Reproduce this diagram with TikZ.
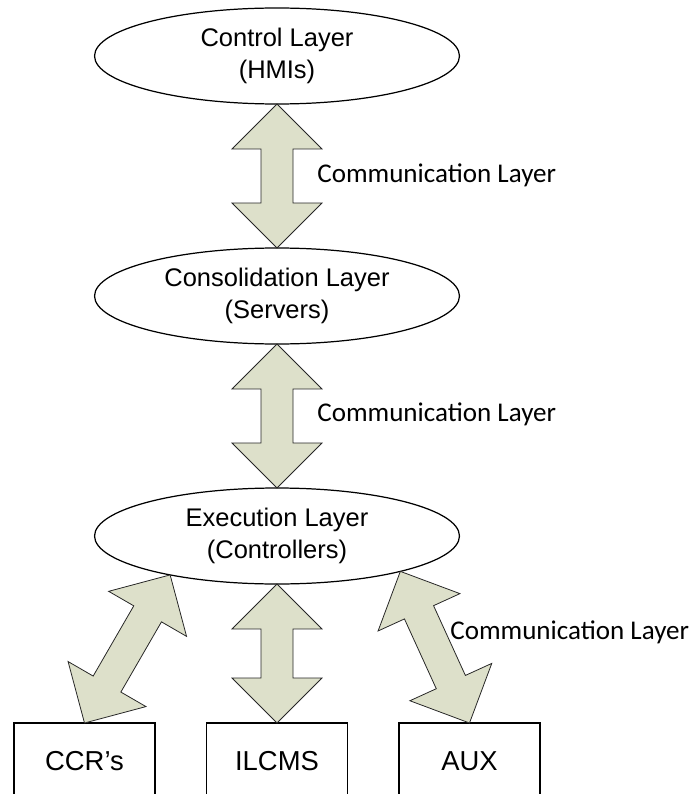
\documentclass[tikz,border=0pt]{standalone}
\usepackage{fontspec}
\setmainfont{Liberation Sans}
\newfontfamily\labelfont{Carlito}
\usetikzlibrary{calc,shapes.geometric}

\definecolor{arrowfill}{RGB}{221,224,202}

\tikzset{
  layer/.style={draw, line width=0.7pt, ellipse, minimum width=7.3cm, minimum height=1.92cm,
    inner sep=0pt, outer sep=0pt, align=center, font=\fontsize{14.5}{18.2}\selectfont},
  unitbox/.style={draw, line width=0.7pt, minimum width=2.82cm, minimum height=1.52cm,
    anchor=north, outer sep=0pt, font=\fontsize{15.6}{18}\selectfont},
  commlabel/.style={anchor=west, inner sep=0pt, font=\labelfont\fontsize{15.4}{18}\selectfont},
  commarrow/.style={fill=arrowfill, draw=black!85, line width=0.45pt}
}

% double block arrow between two points
\newcommand{\dblarrow}[2]{%
  \path (#1) coordinate (ta) (#2) coordinate (tb);
  \path ($(ta)!0.9cm!(tb)$) coordinate (ha) ($(tb)!0.9cm!(ta)$) coordinate (hb);
  \draw[commarrow] (ta)
    -- ($(ha)!0.9cm!90:(tb)$) -- ($(ha)!0.32cm!90:(tb)$)
    -- ($(hb)!0.32cm!-90:(ta)$) -- ($(hb)!0.9cm!-90:(ta)$)
    -- (tb)
    -- ($(hb)!0.9cm!90:(ta)$) -- ($(hb)!0.32cm!90:(ta)$)
    -- ($(ha)!0.32cm!-90:(tb)$) -- ($(ha)!0.9cm!-90:(tb)$)
    -- cycle;
}

\begin{document}
\begin{tikzpicture}[x=0.02cm, y=-0.02cm]
  \clip (0,0) rectangle (691,794);

  % Layers
  \node[layer] (ctrl) at (277,56) {Control Layer\\(HMIs)};
  \node[layer] (cons) at (277,296) {Consolidation Layer\\(Servers)};
  \node[layer] (exe) at (277,536) {Execution Layer\\(Controllers)};

  % Field units
  \node[unitbox] (ccr) at (84.5,723) {CCR’s};
  \node[unitbox] (ilcms) at (277,723) {ILCMS};
  \node[unitbox] (aux) at (469.5,723) {AUX};

  % Communication arrows
  \dblarrow{ctrl.south}{cons.north}
  \dblarrow{cons.south}{exe.north}
  \dblarrow{exe.200}{ccr.north}
  \dblarrow{exe.south}{ilcms.north}
  \dblarrow{exe.-16}{aux.north}

  % Labels
  \node[commlabel] (lbltop) at (317,175) {Communication Layer};
  \node[commlabel] (lblmid) at (317,414) {Communication Layer};
  \node[commlabel] (lblbot) at (450,632) {Communication Layer};
\end{tikzpicture}
\end{document}
